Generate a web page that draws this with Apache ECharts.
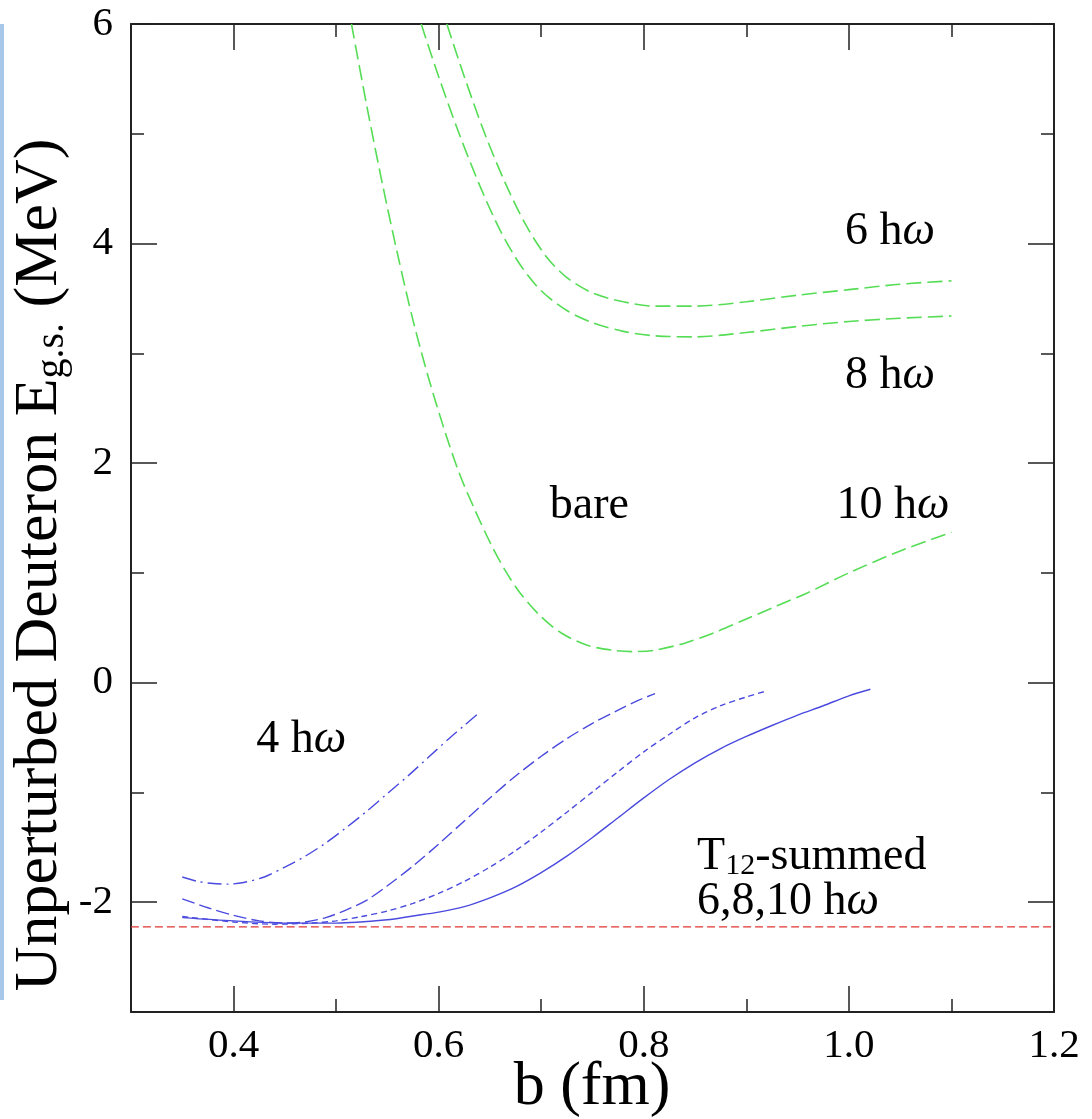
<!DOCTYPE html>
<html><head><meta charset="utf-8">
<script src="https://cdn.jsdelivr.net/npm/echarts@6/dist/echarts.min.js"></script>
<style>html,body{margin:0;padding:0;background:#fff}#c{width:1092px;height:1119px}</style>
</head><body><div id="c"></div>
<script>
// tick values
const xMajor = [0.4, 0.6, 0.8, 1.0, 1.2];
const xMinor = [0.5, 0.7, 0.9, 1.1];
const yMajor = [-2, 0, 2, 4, 6];
const yMinor = [-1, 1, 3, 5];

// green (bare / 6 / 8 hw) curves: [b (fm), E (MeV)]
const bare = [[0.515,6.0],[0.53,5.25],[0.545,4.55],[0.56,3.9],[0.575,3.3],[0.59,2.78],[0.605,2.32],[0.62,1.91],[0.635,1.58],[0.65,1.28],[0.665,1.02],[0.68,0.81],[0.70,0.6],[0.72,0.45],[0.745,0.34],[0.77,0.295],[0.79,0.283],[0.81,0.295],[0.84,0.36],[0.87,0.46],[0.9,0.58],[0.93,0.7],[0.96,0.82],[1.0,1.0],[1.05,1.2],[1.1,1.37]];
const hw8 = [[0.583,6.0],[0.6,5.52],[0.62,5.0],[0.64,4.53],[0.66,4.12],[0.68,3.8],[0.70,3.57],[0.725,3.39],[0.75,3.28],[0.78,3.2],[0.81,3.16],[0.85,3.15],[0.9,3.19],[0.95,3.245],[1.0,3.29],[1.05,3.32],[1.1,3.34]];
const hw6 = [[0.608,6.0],[0.625,5.52],[0.645,5.0],[0.665,4.55],[0.685,4.17],[0.705,3.88],[0.725,3.69],[0.75,3.55],[0.78,3.47],[0.81,3.43],[0.85,3.43],[0.9,3.47],[0.95,3.53],[1.0,3.58],[1.05,3.63],[1.1,3.66]];

// blue (T12-summed) curves
const hw4T = [[0.35,-1.77],[0.365,-1.81],[0.38,-1.83],[0.395,-1.835],[0.41,-1.82],[0.43,-1.77],[0.45,-1.68],[0.47,-1.58],[0.49,-1.46],[0.51,-1.32],[0.53,-1.17],[0.55,-1.01],[0.57,-0.85],[0.59,-0.68],[0.61,-0.51],[0.625,-0.39],[0.64,-0.27]];
const hw6T = [[0.35,-1.97],[0.375,-2.05],[0.4,-2.12],[0.425,-2.17],[0.45,-2.19],[0.47,-2.18],[0.49,-2.14],[0.51,-2.07],[0.53,-1.98],[0.55,-1.85],[0.575,-1.67],[0.6,-1.47],[0.625,-1.26],[0.65,-1.05],[0.675,-0.85],[0.7,-0.67],[0.725,-0.51],[0.75,-0.37],[0.775,-0.25],[0.795,-0.16],[0.811,-0.1]];
const hw8T = [[0.35,-2.13],[0.4,-2.18],[0.44,-2.2],[0.475,-2.19],[0.5,-2.17],[0.525,-2.13],[0.55,-2.08],[0.575,-2.01],[0.6,-1.92],[0.625,-1.81],[0.65,-1.68],[0.675,-1.53],[0.7,-1.36],[0.725,-1.18],[0.75,-0.995],[0.775,-0.81],[0.8,-0.63],[0.825,-0.47],[0.85,-0.32],[0.875,-0.21],[0.9,-0.13],[0.918,-0.08]];
const hw10T = [[0.35,-2.14],[0.4,-2.17],[0.45,-2.19],[0.5,-2.19],[0.55,-2.16],[0.575,-2.125],[0.6,-2.09],[0.625,-2.04],[0.65,-1.96],[0.675,-1.86],[0.7,-1.73],[0.725,-1.58],[0.75,-1.41],[0.775,-1.23],[0.8,-1.05],[0.825,-0.88],[0.85,-0.73],[0.875,-0.6],[0.9,-0.49],[0.925,-0.39],[0.95,-0.295],[0.975,-0.21],[1.0,-0.12],[1.021,-0.06]];

// exact deuteron binding energy line
const deuteronE = -2.225;
const refLine = [[0.3, deuteronE], [1.2, deuteronE]];

// annotations: [b, E, text, align]
const annotations = [
  [1.040, 4.11, '6 h{it|ω}', 'center'],
  [1.040, 2.79, '8 h{it|ω}', 'center'],
  [1.043, 1.61, '10 h{it|ω}', 'center'],
  [0.747, 1.61, 'bare', 'center'],
  [0.466, -0.52, '4 h{it|ω}', 'center'],
  [0.852, -1.59, 'T{sub|12}-summed', 'left'],
  [0.852, -2.0, '6,8,10 h{it|ω}', 'left']
];
const xTitle = 'b (fm)';
const yTitle = 'Unperturbed Deuteron E{sub|g.s.} (MeV)';

const FONT = '"Liberation Serif","Times New Roman",serif';
const AX = '#222';
const GREEN = '#55dd55';
const BLUE = '#4a4adf';

function xAx(pos, vals, len, showLine, showLabel) {
  return {
    type: 'value', position: pos, min: 0.3, max: 1.2, gridIndex: 0,
    axisLine: {show: showLine, onZero: false, lineStyle: {color: AX, width: 2}},
    axisTick: {show: true, inside: true, length: len, customValues: vals, lineStyle: {color: AX, width: 1.5}},
    axisLabel: {show: showLabel, customValues: vals, formatter: v => v.toFixed(1), fontFamily: FONT, fontSize: 41, color: '#000', margin: 14},
    splitLine: {show: false}
  };
}
function yAx(pos, vals, len, showLine, showLabel) {
  return {
    type: 'value', position: pos, min: -3, max: 6, gridIndex: 0,
    axisLine: {show: showLine, onZero: false, lineStyle: {color: AX, width: 2}},
    axisTick: {show: true, inside: true, length: len, customValues: vals, lineStyle: {color: AX, width: 1.5}},
    axisLabel: {show: showLabel, customValues: vals, formatter: v => String(v), fontFamily: FONT, fontSize: 41, color: '#000', margin: 18},
    splitLine: {show: false}
  };
}

const xAxes = [xAx('bottom', xMajor, 26, true, true), xAx('bottom', xMinor, 13, false, false),
               xAx('top', xMajor, 26, true, false), xAx('top', xMinor, 13, false, false)];
const yAxes = [yAx('left', yMajor, 26, true, true), yAx('left', yMinor, 13, false, false),
               yAx('right', yMajor, 26, true, false), yAx('right', yMinor, 13, false, false)];

function line(data, color, type, width) {
  return {type: 'line', xAxisIndex: 0, yAxisIndex: 0, data: data, showSymbol: false, symbol: 'none',
    smooth: 0.3, clip: true, silent: true,
    lineStyle: {color: color, width: width, type: type}};
}

const option = {
  animation: false,
  backgroundColor: '#fff',
  grid: {left: 131, right: 38, top: 24, bottom: 107, containLabel: false, outerBoundsMode: 'none'},
  xAxis: xAxes,
  yAxis: yAxes,
  series: [
    line(refLine, '#e03535', [8, 4], 1.3),
    line(bare, GREEN, [15, 6], 1.6),
    line(hw8, GREEN, [15, 6], 1.6),
    line(hw6, GREEN, [15, 6], 1.6),
    line(hw4T, BLUE, [14, 5, 2, 5], 1.4),
    line(hw6T, BLUE, [13, 5], 1.4),
    line(hw8T, BLUE, [6, 4], 1.4),
    line(hw10T, BLUE, 'solid', 1.4)
  ]
};

const chart = echarts.init(document.getElementById('c'), null, {renderer: 'canvas'});
chart.setOption(option);

const rich = {
  it: {fontFamily: FONT, fontSize: 46, fontStyle: 'italic', fill: '#000'},
  sub: {fontFamily: FONT, fontSize: 30, fill: '#000', padding: [18, 0, 0, 0], verticalAlign: 'bottom'}
};
const graphics = annotations.map(a => {
  const p = chart.convertToPixel({xAxisIndex: 0, yAxisIndex: 0}, [a[0], a[1]]);
  return {type: 'text', x: p[0], y: p[1], silent: true, z: 100,
    style: {text: a[2], fontFamily: FONT, fontSize: 46, fill: '#000', align: a[3], verticalAlign: 'middle', rich: rich}};
});
// axis titles
graphics.push({type: 'text', x: 592, y: 1088, silent: true, z: 100,
  style: {text: xTitle, fontFamily: FONT, fontSize: 62, fill: '#000', align: 'center', verticalAlign: 'middle'}});
graphics.push({type: 'text', x: 40, y: 565, rotation: Math.PI / 2, silent: true, z: 100,
  style: {text: yTitle, fontFamily: FONT, fontSize: 62, fill: '#000', align: 'center', verticalAlign: 'middle',
    rich: {sub: {fontFamily: FONT, fontSize: 40, fill: '#000', padding: [24, 0, 0, 0], verticalAlign: 'bottom'}}}});
graphics.push({type: 'rect', shape: {x: 0, y: 24, width: 4, height: 976}, style: {fill: '#a8c8ea'}, silent: true});
chart.setOption({graphic: graphics});
</script>
</body></html>
